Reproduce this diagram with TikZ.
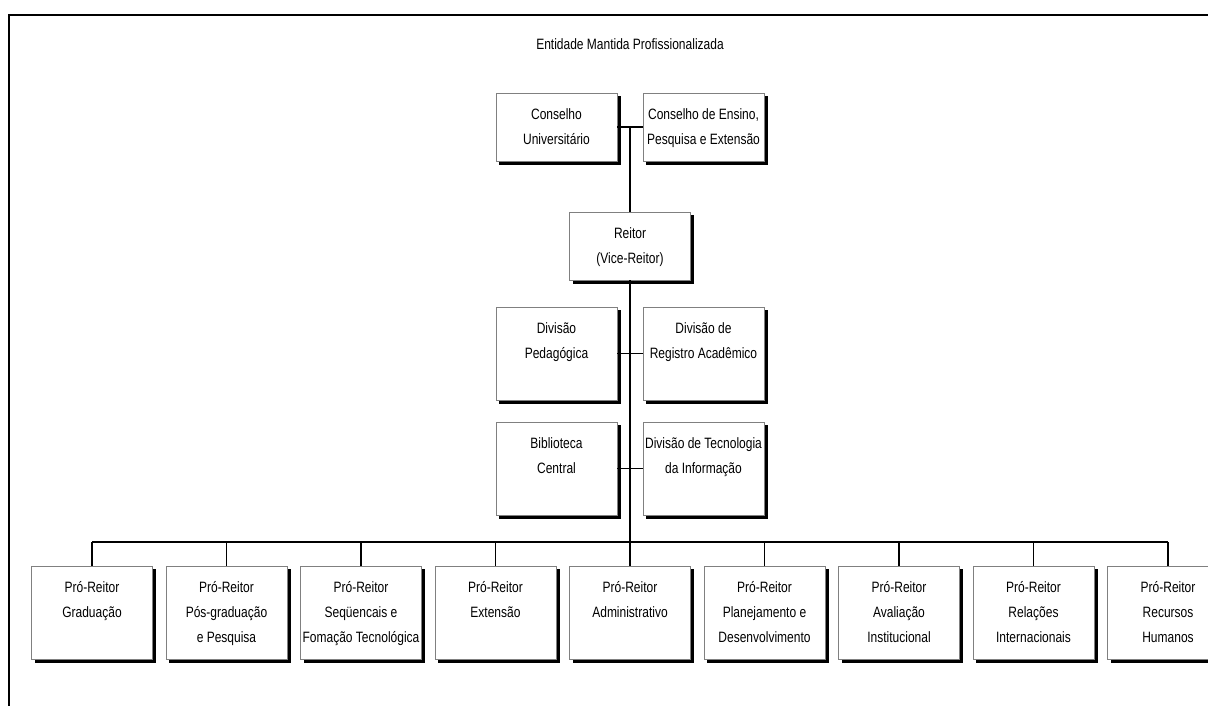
\documentclass[tikz,border=0pt]{standalone}
\usepackage{fontspec}
\setmainfont{Liberation Sans}[FakeStretch=0.8]
\usetikzlibrary{backgrounds}
\begin{document}
\begin{tikzpicture}[x=1pt,y=-1pt,
  box/.style={draw=black!50, line width=0.8pt, fill=white, minimum width=121pt,
    inner sep=0pt},
  shortbox/.style={box, minimum height=68pt},
  tallbox/.style={box, minimum height=93pt},
  lbl/.style={anchor=north, align=center, inner sep=0pt, yshift=-16pt,
    font=\fontsize{15}{25}\selectfont},
  conn/.style={draw=black, line width=1.2pt},
  boxshadow/.style={fill=black},
  frame/.style={draw=black, line width=2.2pt}]
\useasboundingbox (0,0) rectangle (1208,706);

% outer frame of the sheet
\coordinate (fbl) at (9,740);
\coordinate (ftl) at (9,15);
\coordinate (ftr) at (1240,15);
\draw[frame] (fbl) -- (ftl) -- (ftr);

\node[font=\fontsize{15}{17}\selectfont] (title) at (630,44) {Entidade Mantida Profissionalizada};

% councils
\node[shortbox] (cu) at (556.5,127) {};
\node[lbl] (cu-t) at (cu.north) {Conselho\\Universitário};
\node[shortbox] (ce) at (703.5,127) {};
\node[lbl] (ce-t) at (ce.north) {Conselho de Ensino,\\Pesquisa e Extensão};

% rector
\node[shortbox] (re) at (630,246) {};
\node[lbl] (re-t) at (re.north) {Reitor\\(Vice-Reitor)};

% divisions
\node[tallbox] (dp) at (556.5,353.5) {};
\node[lbl] (dp-t) at (dp.north) {Divisão\\Pedagógica};
\node[tallbox] (dr) at (703.5,353.5) {};
\node[lbl] (dr-t) at (dr.north) {Divisão de\\Registro Acadêmico};
\node[tallbox] (bc) at (556.5,468.5) {};
\node[lbl] (bc-t) at (bc.north) {Biblioteca\\Central};
\node[tallbox] (dt) at (703.5,468.5) {};
\node[lbl] (dt-t) at (dt.north) {Divisão de Tecnologia\\da Informação};

% pro-rectors
\foreach \i/\t in {
  1/{Pró-Reitor\\Graduação},
  2/{Pró-Reitor\\Pós-graduação\\ e Pesquisa},
  3/{Pró-Reitor\\Seqüencais e\\Fomação Tecnológica},
  4/{Pró-Reitor\\Extensão},
  5/{Pró-Reitor\\Administrativo},
  6/{Pró-Reitor\\Planejamento e\\Desenvolvimento},
  7/{Pró-Reitor\\Avaliação\\Institucional},
  8/{Pró-Reitor\\Relações\\Internacionais},
  9/{Pró-Reitor\\Recursos\\Humanos}}{
  \node[tallbox] (p\i) at ({92+(\i-1)*134.5},612.5) {};
  \node[lbl] (p\i-t) at (p\i.north) {\t};
}

% drop shadows behind every box
\begin{pgfonlayer}{background}
\foreach \n in {cu,ce,re,dp,dr,bc,dt,p1,p2,p3,p4,p5,p6,p7,p8,p9}{
  \fill[boxshadow] ([shift={(3.5pt,-3.5pt)}]\n.south west)
    rectangle ([shift={(3.5pt,-3.5pt)}]\n.north east);
}
\end{pgfonlayer}

% connectors
\coordinate (bus) at (630,542);
\draw[conn] (cu.east) -- (ce.west);
\draw[conn] (cu.east -| re.north) -- (re.north);
\draw[conn] (dp.east) -- (dr.west);
\draw[conn] (bc.east) -- (dt.west);
\draw[conn] (re.south) -- (bus);
\draw[conn] (p1.north |- bus) -- (p9.north |- bus);
\foreach \i in {1,...,9}{
  \draw[conn] (p\i.north |- bus) -- (p\i.north);
}
\end{tikzpicture}
\end{document}
